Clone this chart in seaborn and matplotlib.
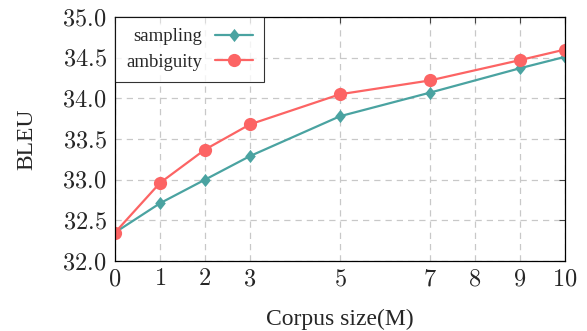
import matplotlib
matplotlib.use("Agg")
import matplotlib.pyplot as plt
import seaborn as sns
import pandas as pd
from matplotlib.ticker import FuncFormatter
from matplotlib.path import Path

corpus_size = [0, 1, 2, 3, 5, 7, 9, 10]
sampling = [32.35, 32.71, 33.00, 33.29, 33.78, 34.07, 34.37, 34.51]
ambiguity = [32.35, 32.96, 33.37, 33.68, 34.05, 34.22, 34.47, 34.60]
x_ticks = [0, 1, 2, 3, 5, 7, 8, 9, 10]
y_ticks = [32.0, 32.5, 33.0, 33.5, 34.0, 34.5, 35.0]

df = pd.DataFrame({
    "size": corpus_size * 2,
    "BLEU": sampling + ambiguity,
    "method": ["sampling"] * len(sampling) + ["ambiguity"] * len(ambiguity),
})

sns.set_theme(style="white")
plt.rcParams["font.family"] = ["Liberation Serif", "DejaVu Serif"]
plt.rcParams["mathtext.fontset"] = "cm"

fig = plt.figure(figsize=(5.87, 3.31), dpi=100)
ax = fig.add_axes([115/587, 70/331, 450/587, 244/331])

diamond = Path([(0, 1), (0.8, 0), (0, -1), (-0.8, 0), (0, 1)],
               [Path.MOVETO, Path.LINETO, Path.LINETO, Path.LINETO, Path.CLOSEPOLY])

palette = {"sampling": "#4aa3a1", "ambiguity": "#fc6464"}
sns.lineplot(data=df, x="size", y="BLEU", hue="method", style="method",
             markers={"sampling": diamond, "ambiguity": "o"}, dashes=False,
             palette=palette, linewidth=1.6, markersize=9.5,
             markeredgewidth=0, ax=ax)

ax.set_xlim(0, 10)
ax.set_ylim(32, 35)
ax.set_xticks(x_ticks)
ax.set_yticks(y_ticks)
ax.xaxis.set_major_formatter(FuncFormatter(lambda v, p: f"${int(v)}$"))
ax.yaxis.set_major_formatter(FuncFormatter(lambda v, p: f"${v:.1f}$"))
ax.tick_params(direction="in", length=4, width=0.8, color="#444444",
               top=True, right=True, labelsize=17.5, pad=6)
ax.grid(True, linestyle=(0, (5, 4)), color="#c8c8c8", linewidth=0.9)
for s in ax.spines.values():
    s.set_color("black")
    s.set_linewidth(0.9)

ax.set_xlabel("Corpus size(M)", fontsize=17, labelpad=13)
ax.set_ylabel("BLEU", fontsize=17, labelpad=18)

leg = ax.legend(loc="upper left", markerfirst=False, fontsize=13.5,
                frameon=True, fancybox=False, edgecolor="black",
                borderaxespad=0.0, handlelength=2.0, borderpad=0.6,
                labelspacing=0.45, handletextpad=0.7)
leg.get_frame().set_linewidth(0.8)
leg.set_title(None)

fig.savefig("out.png", dpi=100)
